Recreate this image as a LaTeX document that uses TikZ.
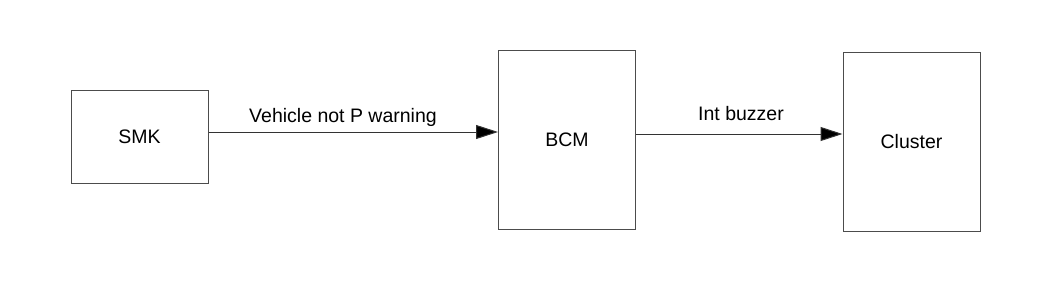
\documentclass[tikz,border=0pt]{standalone}
\usepackage{fontspec}
\setmainfont{Liberation Sans}
\usetikzlibrary{arrows.meta}
\begin{document}
\begin{tikzpicture}[x=1pt,y=-1pt,
  box/.style={draw=black!70,line width=1pt,fill=white,inner sep=0pt,font=\fontsize{19.5}{23}\selectfont},
  arr/.style={draw=black!80,line width=1pt,-{Triangle[length=22pt,width=14pt,fill=black]}},
  lbl/.style={anchor=base,inner sep=0pt,font=\fontsize{19.5}{23}\selectfont}]
\useasboundingbox[fill=white] (0,0) rectangle (1051,281);
\node[box,minimum width=137pt,minimum height=93pt] (smk) at (139.5,136.5) {SMK};
\node[box,minimum width=137pt,minimum height=179pt] (bcm) at (567,139.5) {BCM};
\node[box,minimum width=137pt,minimum height=179pt] (cluster) at (911.5,141.5) {Cluster};
\draw[arr] ([yshift=4.5pt]smk.east) -- ([yshift=4.5pt]smk.east -| bcm.west);
\draw[arr] ([yshift=5.5pt]bcm.east) -- ([yshift=5.5pt]bcm.east -| cluster.west);
\node[lbl] (l1) at (343,122) {Vehicle not P warning};
\node[lbl] (l2) at (741,120) {Int buzzer};
\end{tikzpicture}
\end{document}
